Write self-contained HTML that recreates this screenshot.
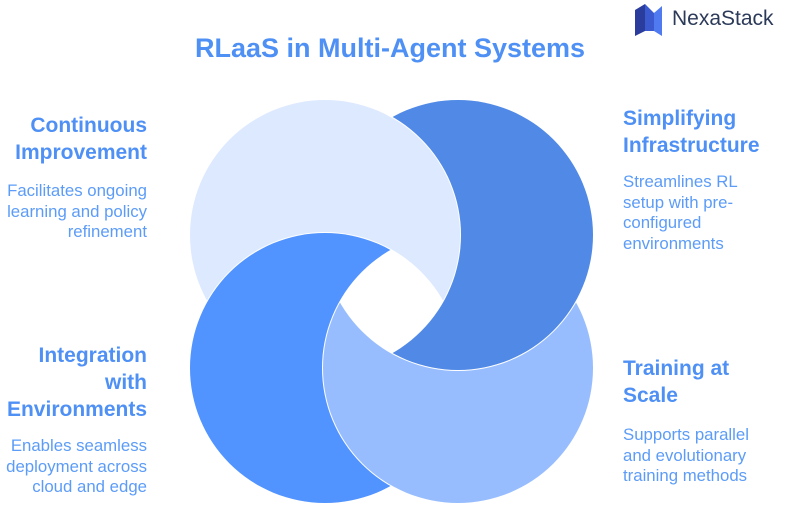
<!DOCTYPE html>
<html><head><meta charset="utf-8"><style>
body{margin:0;width:792px;height:511px;background:#fff;position:relative;overflow:hidden;font-family:"Liberation Sans",Arial,sans-serif}
.t{position:absolute;white-space:nowrap}
.h{font-weight:bold;font-size:21px;line-height:27px;color:#4f90f5}
.b{font-size:16.8px;line-height:20.7px;color:#5c9cf8}
.l{right:645px;text-align:right}
.r{left:623px;text-align:left}
</style></head><body>
<svg width="792" height="511" style="position:absolute;left:0;top:0">
<defs>
<mask id="mTL"><rect width="792" height="511" fill="#fff"/><circle cx="325" cy="368" r="136" fill="#000"/></mask>
<mask id="mTR"><rect width="792" height="511" fill="#fff"/><circle cx="325" cy="235" r="136" fill="#000"/></mask>
<mask id="mBR"><rect width="792" height="511" fill="#fff"/><circle cx="458" cy="235" r="136" fill="#000"/></mask>
<mask id="mBL"><rect width="792" height="511" fill="#fff"/><circle cx="458" cy="368" r="136" fill="#000"/></mask>
</defs>
<circle cx="325" cy="235" r="135" fill="#dde9ff" mask="url(#mTL)"/>
<circle cx="458" cy="235" r="135" fill="#508ae6" mask="url(#mTR)"/>
<circle cx="458" cy="368" r="135" fill="#98bdff" mask="url(#mBR)"/>
<circle cx="325" cy="368" r="135" fill="#5193ff" mask="url(#mBL)"/>
<path d="M635 10 L645 4 L645 31 L635 36 Z" fill="#2a3d9c"/>
<path d="M645 4 L654 13 L654 31 L645 31 Z" fill="#3b5ad0"/>
<path d="M654 13 L662 6 L662 36 L654 31 Z" fill="#4f7af0"/>
</svg>
<div class="t" style="left:672px;top:7px;font-size:21px;color:#2c3a5a">NexaStack</div>
<div class="t" style="left:0;width:780px;text-align:center;top:33px;font-size:27px;font-weight:bold;color:#4f90f5">RLaaS in Multi-Agent Systems</div>

<div class="t h l" style="top:112px">Continuous<br>Improvement</div>
<div class="t b l" style="top:181px">Facilitates ongoing<br>learning and policy<br>refinement</div>

<div class="t h r" style="top:105px">Simplifying<br>Infrastructure</div>
<div class="t b r" style="top:172px">Streamlines RL<br>setup with pre-<br>configured<br>environments</div>

<div class="t h l" style="top:342px">Integration<br>with<br>Environments</div>
<div class="t b l" style="top:436px">Enables seamless<br>deployment across<br>cloud and edge</div>

<div class="t h r" style="top:355px">Training at<br>Scale</div>
<div class="t b r" style="top:425px">Supports parallel<br>and evolutionary<br>training methods</div>
</body></html>
